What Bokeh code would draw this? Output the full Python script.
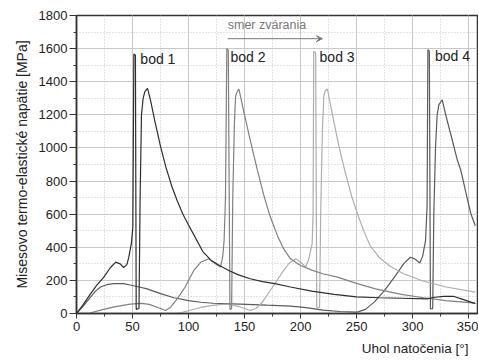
from bokeh.plotting import figure
from bokeh.models import Label, Arrow, VeeHead, SingleIntervalTicker, Range1d, Title
from bokeh.embed import file_html
from bokeh.resources import INLINE

# ---- data ----
x_bod1 = [0, 5, 12.5, 18, 24.4, 30, 35, 39, 42, 45, 46.7, 49, 50.3, 51.2, 52.6, 53.3, 55.8, 56.8, 58, 59.5, 61,
          63.4, 66, 70, 75, 80, 85, 90, 95, 100, 106, 113, 120, 128, 136, 144, 155, 166, 177, 191, 210, 230,
          250, 270, 290, 313, 320, 328, 337, 345, 356]
y_bod1 = [0, 45, 119, 170, 220, 275, 310, 300, 278, 295, 340, 424, 520, 1568, 1560, 25, 30, 700, 1200, 1300, 1340,
          1360, 1290, 1160, 1010, 880, 770, 680, 600, 535, 460, 372, 322, 288, 260, 235, 210, 193, 180, 160, 135, 115,
          100, 95, 92, 88, 98, 103, 103, 85, 60]

x_bod2 = [0, 12, 24, 35, 48, 58, 65, 72, 79.5, 84, 90, 97, 104.7, 111, 118, 124, 128.6, 130.5, 131.8, 133, 134.2,
          135.5, 137, 138.5, 139.5, 141, 142, 143.5, 145, 150, 155, 161, 167, 173, 180, 185, 191, 200, 210, 220,
          233, 250, 267, 290, 310, 330, 356]
y_bod2 = [0, 3, 25, 42, 57, 61, 55, 38, 18, 38, 90, 160, 260, 310, 331, 300, 281, 340, 442, 700, 1600,
          1590, 24, 30, 700, 1150, 1311, 1340, 1356, 1200, 1050, 880, 720, 584, 460, 390, 330, 290, 262, 240,
          220, 182, 149, 115, 95, 78, 63]

x_bod3 = [0, 90, 99, 110, 120, 130, 137.5, 145, 155, 160, 165, 173, 180, 185, 190, 196, 201, 204.5, 207, 209,
          210.4, 211.2, 211.8, 213.5, 214.5, 217, 218, 219.5, 220.8, 222, 224, 230, 235, 240, 246, 252, 257,
          262, 270, 280, 292, 310, 330, 356]
y_bod3 = [0, 0, 15, 35, 48, 55, 55, 42, 18, 30, 60, 139, 210, 260, 305, 330, 305, 281, 320, 380,
          422, 600, 1584, 1575, 30, 38, 600, 1100, 1311, 1345, 1356, 1150, 990, 850, 700, 580, 490,
          412, 340, 285, 240, 195, 160, 129]

x_bod4 = [0, 6, 12.5, 17, 21.4, 27, 33, 42, 48, 56, 63, 75, 87, 100, 111, 122, 146, 170, 191, 205, 220, 235,
          250.6, 258, 266, 275, 285, 292, 298, 302, 306.5, 309, 311.6, 313, 313.7, 315, 316, 318, 319, 320.5,
          322, 323.5, 326.5, 330, 335, 340, 343, 348, 352, 356]
y_bod4 = [0, 45, 99, 135, 160, 174, 180, 180, 172, 160, 149, 120, 95, 78, 68, 62, 57, 50, 45, 35, 20, 12,
          8, 25, 70, 140, 230, 300, 340, 330, 305, 345, 440, 650, 1594, 1585, 28, 30, 600, 1000,
          1200, 1260, 1291, 1190, 1060, 927, 867, 720, 604, 530]

labels = ["bod 1", "bod 2", "bod 3", "bod 4"]
label_x = [57, 137.5, 217, 320]
label_y = [1540, 1547, 1547, 1553]

FONT = "Liberation Sans"

p = figure(width=478, height=362, output_backend="svg", toolbar_location=None,
           x_range=Range1d(0, 358), y_range=Range1d(0, 1800),
           min_border_left=76, min_border_right=1, min_border_top=15, min_border_bottom=49)
p.background_fill_color = "white"
p.outline_line_color = "#333333"
p.outline_line_width = 1.5

p.xaxis.ticker = SingleIntervalTicker(interval=50, num_minor_ticks=2)
p.yaxis.ticker = SingleIntervalTicker(interval=200, num_minor_ticks=2)

for ax in (p.xaxis, p.yaxis):
    ax.axis_line_color = "#333333"
    ax.axis_line_width = 1.5
    ax.major_tick_line_color = "#333333"
    ax.minor_tick_line_color = "#333333"
    ax.major_tick_in = 0
    ax.minor_tick_in = 0
    ax.major_label_text_font = FONT
    ax.major_label_text_font_size = "13px"
    ax.major_label_text_color = "#222222"
    ax.axis_label_text_font = FONT
    ax.axis_label_text_font_size = "14px"
    ax.axis_label_text_font_style = "normal"
    ax.axis_label_text_color = "#222222"

p.yaxis.major_tick_out = 7
p.yaxis.minor_tick_out = 3
p.yaxis.major_label_standoff = 2
p.yaxis.axis_label = "Misesovo termo-elastické napätie [MPa]"
p.yaxis.axis_label_standoff = 6
p.xaxis.major_tick_out = 5
p.xaxis.minor_tick_out = 3
p.xaxis.major_label_standoff = 3

for g in (p.xgrid, p.ygrid):
    g.grid_line_color = "#c8c8c8"
    g.grid_line_width = 1
    g.minor_grid_line_color = "#c4c4c4"
    g.minor_grid_line_dash = "1 2"

p.line(x_bod4, y_bod4, line_color="#5a5a5a", line_width=1.2)
p.line(x_bod3, y_bod3, line_color="#adadad", line_width=1.2)
p.line(x_bod2, y_bod2, line_color="#808080", line_width=1.2)
p.line(x_bod1, y_bod1, line_color="#2e2e2e", line_width=1.2)

for t, lx, ly in zip(labels, label_x, label_y):
    p.add_layout(Label(x=lx, y=ly, text=t, text_font=FONT, text_font_size="14px",
                       text_color="#222222", text_baseline="middle"))

p.add_layout(Label(x=135, y=1740, text="smer zvárania", text_font=FONT, text_font_size="12.5px",
                   text_color="#777777", text_baseline="middle"))
p.add_layout(Arrow(x_start=135, y_start=1660, x_end=219.5, y_end=1660, line_color="#777777", line_width=1,
                   end=VeeHead(size=6, fill_color="#777777", line_color="#777777")))

p.add_layout(Title(text="Uhol natočenia [°]", align="right", text_font=FONT, text_font_size="13.5px",
                   text_font_style="normal", text_color="#222222", standoff=10, offset=9), "below")

open("out.html", "w").write(file_html(p, INLINE))
